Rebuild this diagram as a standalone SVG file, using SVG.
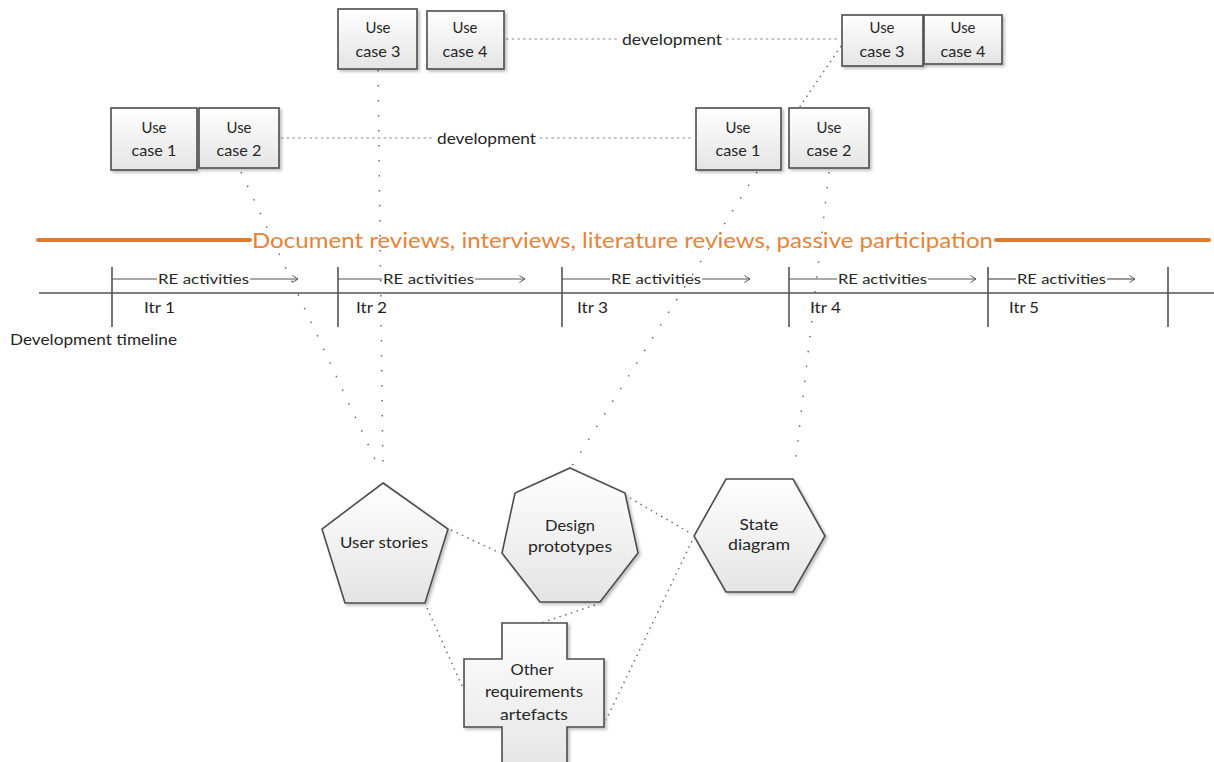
<svg xmlns="http://www.w3.org/2000/svg" width="1214" height="762" viewBox="0 0 1214 762">
  <defs>
    <linearGradient id="shapeFill" x1="0" y1="0" x2="0" y2="1">
      <stop offset="0" stop-color="#ffffff"/>
      <stop offset="1" stop-color="#e4e4e4"/>
    </linearGradient>
    <filter id="shadow" x="-20%" y="-20%" width="140%" height="140%">
      <feDropShadow dx="2" dy="2" stdDeviation="1.5" flood-color="#000" flood-opacity="0.25"/>
    </filter>
    <marker id="openArrow" viewBox="0 0 10 12" refX="9" refY="6" markerWidth="7" markerHeight="11" markerUnits="userSpaceOnUse" orient="auto">
      <path d="M1,1 L9,6 L1,11" fill="none" stroke="#555" stroke-width="1.4"/>
    </marker>
  </defs>
  <style>
    .node { fill: url(#shapeFill); stroke: #4d4d4d; stroke-width: 1.6; filter: url(#shadow); }
    .label { font-family: Lato, "Liberation Sans", sans-serif; font-size: 16px; fill: #262626; text-anchor: middle; }
    .tl { font-family: Lato, "Liberation Sans", sans-serif; font-size: 15px; fill: #262626; }
    .re { font-family: Lato, "Liberation Sans", sans-serif; font-size: 14px; fill: #262626; }
    .dev { font-family: Lato, "Liberation Sans", sans-serif; font-size: 16px; fill: #262626; }
    .orange { font-family: Lato, "Liberation Sans", sans-serif; font-size: 21px; fill: #e3843a; }
    .dash { fill: none; stroke: #8a8a8a; stroke-width: 1.2; stroke-dasharray: 2.5 3.2; }
    .sparse { fill: none; stroke: #6a6a6a; stroke-width: 1.5; stroke-dasharray: 1.5 13.5; }
    .dotted { fill: none; stroke: #6a6a6a; stroke-width: 1.4; stroke-dasharray: 1.5 4.5; }
    .axis { fill: none; stroke: #555; stroke-width: 1.6; }
    .bracket { fill: none; stroke: #555; stroke-width: 1.2; }
  </style>

  <!-- connectors -->
  <g id="connectors">
    <!-- development links between use case pairs -->
    <path class="dash" d="M506,39 H618 M726,39 H840"/>
    <path class="dash" d="M281,138 H433 M540,138 H694"/>
    <text class="dev" x="622" y="45" textLength="100" lengthAdjust="spacingAndGlyphs">development</text>
    <text class="dev" x="437" y="144" textLength="99" lengthAdjust="spacingAndGlyphs">development</text>
    <!-- use cases down to artefacts -->
    <path class="sparse" d="M378,70 L383,470"/>
    <path class="sparse" d="M241,172 L380,470"/>
    <path class="sparse" d="M757,172 L572,466"/>
    <path class="sparse" d="M829,172 L795,466"/>
    <path class="dotted" d="M841,46 L799,108"/>
    <!-- links between artefacts -->
    <path class="dotted" d="M451,530 L500,553"/>
    <path class="dotted" d="M630,498 L690,533"/>
    <path class="dotted" d="M692,541 L606,720"/>
    <path class="dotted" d="M427,608 L463,688"/>
    <path class="dotted" d="M595,605 L538,624"/>
  </g>

  <!-- techniques band -->
  <g id="techniques">
    <path d="M38,240 H250 M996,240 H1209" fill="none" stroke="#e07a2c" stroke-width="4" stroke-linecap="round"/>
    <text class="orange" x="252" y="248" textLength="741" lengthAdjust="spacingAndGlyphs">Document reviews, interviews, literature reviews, passive participation</text>
  </g>

  <!-- development timeline -->
  <g id="timeline">
    <path class="axis" d="M39,293 H1214"/>
    <path class="axis" d="M112,267 V327 M338,267 V327 M562,267 V327 M789,267 V327 M988,267 V327 M1168,267 V327"/>
    <!-- RE activity brackets -->
    <path class="bracket" d="M112,279 H157" />
    <path class="bracket" d="M250,279 H298" marker-end="url(#openArrow)"/>
    <path class="bracket" d="M338,279 H382" />
    <path class="bracket" d="M475,279 H525" marker-end="url(#openArrow)"/>
    <path class="bracket" d="M562,279 H610" />
    <path class="bracket" d="M702,279 H750" marker-end="url(#openArrow)"/>
    <path class="bracket" d="M789,279 H837" />
    <path class="bracket" d="M928,279 H976" marker-end="url(#openArrow)"/>
    <path class="bracket" d="M988,279 H1016" />
    <path class="bracket" d="M1107,279 H1135" marker-end="url(#openArrow)"/>
    <text class="re" x="158" y="284" textLength="91" lengthAdjust="spacingAndGlyphs">RE activities</text>
    <text class="re" x="383" y="284" textLength="91" lengthAdjust="spacingAndGlyphs">RE activities</text>
    <text class="re" x="611" y="284" textLength="90" lengthAdjust="spacingAndGlyphs">RE activities</text>
    <text class="re" x="838" y="284" textLength="89" lengthAdjust="spacingAndGlyphs">RE activities</text>
    <text class="re" x="1017" y="284" textLength="89" lengthAdjust="spacingAndGlyphs">RE activities</text>
    <text class="tl" x="144" y="313" textLength="31" lengthAdjust="spacingAndGlyphs">Itr 1</text>
    <text class="tl" x="356" y="313" textLength="31" lengthAdjust="spacingAndGlyphs">Itr 2</text>
    <text class="tl" x="577" y="313" textLength="31" lengthAdjust="spacingAndGlyphs">Itr 3</text>
    <text class="tl" x="810" y="313" textLength="31" lengthAdjust="spacingAndGlyphs">Itr 4</text>
    <text class="tl" x="1009" y="313" textLength="30" lengthAdjust="spacingAndGlyphs">Itr 5</text>
    <text class="tl" x="10" y="345" textLength="167" lengthAdjust="spacingAndGlyphs">Development timeline</text>
  </g>

  <!-- first development slice: use cases 1 and 2 -->
  <g id="uc1-a">
    <rect class="node" x="111" y="108" width="86" height="62"/>
    <text class="label" x="154" y="133" textLength="25" lengthAdjust="spacingAndGlyphs">Use</text>
    <text class="label" x="154" y="156" textLength="45" lengthAdjust="spacingAndGlyphs">case 1</text>
  </g>
  <g id="uc2-a">
    <rect class="node" x="199" y="108" width="80" height="60"/>
    <text class="label" x="239" y="133" textLength="25" lengthAdjust="spacingAndGlyphs">Use</text>
    <text class="label" x="239" y="156" textLength="45" lengthAdjust="spacingAndGlyphs">case 2</text>
  </g>
  <!-- first development slice: use cases 3 and 4 -->
  <g id="uc3-a">
    <rect class="node" x="338" y="9" width="79" height="60"/>
    <text class="label" x="378" y="33" textLength="25" lengthAdjust="spacingAndGlyphs">Use</text>
    <text class="label" x="378" y="57" textLength="45" lengthAdjust="spacingAndGlyphs">case 3</text>
  </g>
  <g id="uc4-a">
    <rect class="node" x="427" y="11" width="77" height="58"/>
    <text class="label" x="465" y="33" textLength="25" lengthAdjust="spacingAndGlyphs">Use</text>
    <text class="label" x="465" y="57" textLength="45" lengthAdjust="spacingAndGlyphs">case 4</text>
  </g>
  <!-- second development slice -->
  <g id="uc1-b">
    <rect class="node" x="696" y="108" width="85" height="62"/>
    <text class="label" x="738" y="133" textLength="25" lengthAdjust="spacingAndGlyphs">Use</text>
    <text class="label" x="738" y="156" textLength="45" lengthAdjust="spacingAndGlyphs">case 1</text>
  </g>
  <g id="uc2-b">
    <rect class="node" x="789" y="108" width="80" height="60"/>
    <text class="label" x="829" y="133" textLength="25" lengthAdjust="spacingAndGlyphs">Use</text>
    <text class="label" x="829" y="156" textLength="45" lengthAdjust="spacingAndGlyphs">case 2</text>
  </g>
  <g id="uc3-b">
    <rect class="node" x="842" y="15" width="81" height="51"/>
    <text class="label" x="882" y="33" textLength="25" lengthAdjust="spacingAndGlyphs">Use</text>
    <text class="label" x="882" y="57" textLength="45" lengthAdjust="spacingAndGlyphs">case 3</text>
  </g>
  <g id="uc4-b">
    <rect class="node" x="924" y="15" width="78" height="49"/>
    <text class="label" x="963" y="33" textLength="25" lengthAdjust="spacingAndGlyphs">Use</text>
    <text class="label" x="963" y="57" textLength="45" lengthAdjust="spacingAndGlyphs">case 4</text>
  </g>

  <!-- requirements artefacts -->
  <g id="user-stories">
    <polygon class="node" points="383,483 448,529 425,603 345,603 322,529"/>
    <text class="label" x="384" y="548" textLength="88" lengthAdjust="spacingAndGlyphs">User stories</text>
  </g>
  <g id="design-prototypes">
    <polygon class="node" points="570,468 625,493 638,553 600,602 540,602 502,553 515,493"/>
    <text class="label" x="570" y="531" textLength="50" lengthAdjust="spacingAndGlyphs">Design</text>
    <text class="label" x="570" y="552" textLength="84" lengthAdjust="spacingAndGlyphs">prototypes</text>
  </g>
  <g id="state-diagram">
    <polygon class="node" points="726,479 793,479 825,536 793,592 726,592 694,536"/>
    <text class="label" x="759" y="530" textLength="39" lengthAdjust="spacingAndGlyphs">State</text>
    <text class="label" x="759" y="550" textLength="62" lengthAdjust="spacingAndGlyphs">diagram</text>
  </g>
  <g id="other-artefacts">
    <polygon class="node" points="502,623 567,623 567,659 604,659 604,727 567,727 567,775 502,775 502,727 464,727 464,659 502,659"/>
    <text class="label" x="532" y="675" textLength="43" lengthAdjust="spacingAndGlyphs">Other</text>
    <text class="label" x="534" y="697" textLength="98" lengthAdjust="spacingAndGlyphs">requirements</text>
    <text class="label" x="534" y="720" textLength="68" lengthAdjust="spacingAndGlyphs">artefacts</text>
  </g>
</svg>
